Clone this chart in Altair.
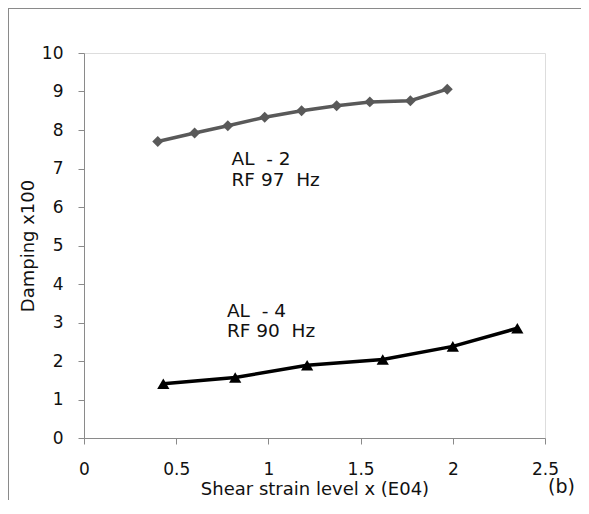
import altair as alt
import pandas as pd

# Series values
al2_x = [0.40, 0.60, 0.78, 0.98, 1.18, 1.37, 1.55, 1.77, 1.97]
al2_y = [7.70, 7.92, 8.11, 8.33, 8.50, 8.63, 8.73, 8.76, 9.06]
al4_x = [0.43, 0.82, 1.21, 1.62, 2.00, 2.35]
al4_y = [1.41, 1.57, 1.89, 2.04, 2.38, 2.85]

x_ticks = [0, 0.5, 1, 1.5, 2, 2.5]
y_ticks = [0, 1, 2, 3, 4, 5, 6, 7, 8, 9, 10]

ann_text = ["AL\u00a0 - 2", "RF 97\u00a0 Hz", "AL\u00a0 - 4", "RF 90\u00a0 Hz"]
ann_x = [0.80, 0.80, 0.775, 0.775]
ann_y = [7.25, 6.69, 3.29, 2.77]

FONT = "DejaVu Sans"
AXIS_GRAY = "#8a8a8a"
TXT = "#111111"

al2 = pd.DataFrame({"x": al2_x, "y": al2_y})
al4 = pd.DataFrame({"x": al4_x, "y": al4_y})
ann = pd.DataFrame({"t": ann_text, "x": ann_x, "y": ann_y})

xs = alt.Scale(domain=[0, 2.5], nice=False, zero=False)
ys = alt.Scale(domain=[0, 10], nice=False, zero=False)

xaxis = alt.Axis(values=x_ticks, tickCount=6, format="~g", title="Shear strain level x (E04)",
                 grid=False, domainColor=AXIS_GRAY, tickColor=AXIS_GRAY, tickSize=6,
                 labelPadding=17, labelFontSize=17, titleFontSize=18,
                 labelOverlap=False, labelFlush=False,
                 titleX=230.5, titleY=51.5, titleBaseline="middle", titleAlign="center",
                 labelColor=TXT, titleColor=TXT, titleFontWeight="normal",
                 labelFont=FONT, titleFont=FONT)
yaxis = alt.Axis(values=y_ticks, tickCount=11, format="d", title="Damping x100",
                 grid=False, domainColor=AXIS_GRAY, tickColor=AXIS_GRAY, tickSize=6,
                 labelPadding=15, labelFontSize=17, titleFontSize=18,
                 labelOverlap=False, labelFlush=False,
                 titleX=-56, titleY=192.5, titleBaseline="middle", titleAlign="center",
                 labelColor=TXT, titleColor=TXT, titleFontWeight="normal",
                 labelFont=FONT, titleFont=FONT)


def xenc():
    return alt.X("x:Q", scale=xs, axis=xaxis)


def yenc():
    return alt.Y("y:Q", scale=ys, axis=yaxis)


line2 = alt.Chart(al2).mark_line(color="#595959", strokeWidth=3.5).encode(x=xenc(), y=yenc())
pts2 = alt.Chart(al2).mark_point(shape="diamond", filled=True, color="#595959", size=120, opacity=1).encode(x=xenc(), y=yenc())
line4 = alt.Chart(al4).mark_line(color="#000000", strokeWidth=3.5).encode(x=xenc(), y=yenc())
pts4 = alt.Chart(al4).mark_point(shape="triangle-up", filled=True, color="#000000", size=150, opacity=1).encode(x=xenc(), y=yenc())

labels = alt.Chart(ann).mark_text(align="left", baseline="middle", fontSize=18.5, font=FONT, color=TXT).encode(
    x=xenc(), y=yenc(), text="t:N"
)

tag = alt.Chart(pd.DataFrame({"t": ["(b)"]})).mark_text(
    align="left", baseline="middle", fontSize=19, font=FONT, color=TXT
).encode(x=alt.value(464), y=alt.value(434), text="t:N")

frame_top = alt.Chart(pd.DataFrame({"a": [0]})).mark_rule(color=AXIS_GRAY, strokeWidth=1).encode(
    x=alt.value(-76), x2=alt.value(600), y=alt.value(-44.5)
)
frame_left = alt.Chart(pd.DataFrame({"a": [0]})).mark_rule(color=AXIS_GRAY, strokeWidth=1).encode(
    x=alt.value(-75.5), y=alt.value(-45), y2=alt.value(600)
)

chart = alt.layer(line2, pts2, line4, pts4, labels, frame_top, frame_left, tag).properties(
    width=461, height=385,
    autosize=alt.AutoSizeParams(type="none"),
    padding={"left": 76, "top": 45, "right": 36, "bottom": 62},
).configure_view(stroke=AXIS_GRAY, strokeWidth=1).configure(background="white")

chart.save("out.html", embed_options={"renderer": "svg", "actions": False})
